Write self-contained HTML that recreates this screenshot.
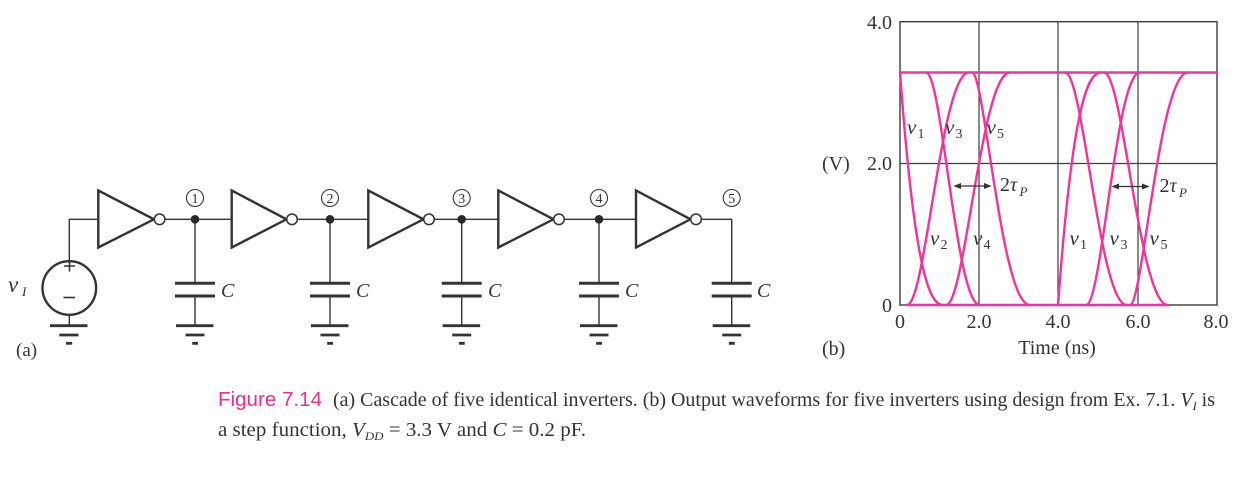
<!DOCTYPE html>
<html><head><meta charset="utf-8"><style>
html,body{margin:0;padding:0;background:#fff;}
svg{display:block;}
</style></head><body>
<svg width="1256" height="490" viewBox="0 0 1256 490" xmlns="http://www.w3.org/2000/svg" font-family="'Liberation Serif', serif">
<rect width="1256" height="490" fill="#fff"/>

<!-- ============ CIRCUIT (a) ============ -->
<g stroke="#333" fill="none">
  <!-- source -->
  <circle cx="69.3" cy="288" r="26.8" stroke-width="2.4"/>
  <path d="M64 266H75M69.5 260.5V271.5" stroke-width="1.6"/>
  <path d="M63.5 297.5H75" stroke-width="1.6"/>
  <path d="M69.3 261.2V219.3H98.3" stroke-width="1.4"/>
  <path d="M69.3 314.8V325.7" stroke-width="1.4"/>
  <path d="M50 325.7H87.5" stroke-width="2.8"/>
  <path d="M59.3 335H78.5" stroke-width="2.8"/>
  <path d="M66 343.3H72.2" stroke-width="2.8"/>

  <!-- inverters -->
  <path d="M98.3 190.5V247.5L154 219.3Z" stroke-width="2.4"/>
  <path d="M231.7 190.5V247.5L286.5 219.3Z" stroke-width="2.4"/>
  <path d="M368.3 190.5V247.5L423.5 219.3Z" stroke-width="2.4"/>
  <path d="M498.3 190.5V247.5L553.5 219.3Z" stroke-width="2.4"/>
  <path d="M636 190.5V247.5L690.5 219.3Z" stroke-width="2.4"/>
  <circle cx="159.6" cy="219.3" r="5.3" stroke-width="1.5" fill="#fff"/>
  <circle cx="292" cy="219.3" r="5.3" stroke-width="1.5" fill="#fff"/>
  <circle cx="429" cy="219.3" r="5.3" stroke-width="1.5" fill="#fff"/>
  <circle cx="559" cy="219.3" r="5.3" stroke-width="1.5" fill="#fff"/>
  <circle cx="696" cy="219.3" r="5.3" stroke-width="1.5" fill="#fff"/>

  <!-- wires between -->
  <path d="M164.9 219.3H231.7M297.3 219.3H368.3M434.3 219.3H498.3M564.3 219.3H636M701.3 219.3H731.7V283.3" stroke-width="1.4"/>

  <!-- capacitors + grounds -->
  <g stroke-width="1.4">
    <path d="M195 219.3V283.3M195 296V325.7"/>
    <path d="M175 283.3H215M175 296H215" stroke-width="3"/>
    <path d="M176 325.7H213.5M185.5 335H204.5M192.2 343.3H198" stroke-width="2.8"/>
  </g>
  <g stroke-width="1.4">
    <path d="M330 219.3V283.3M330 296V325.7"/>
    <path d="M310 283.3H350M310 296H350" stroke-width="3"/>
    <path d="M311 325.7H348.5M320.5 335H339.5M327.2 343.3H333" stroke-width="2.8"/>
  </g>
  <g stroke-width="1.4">
    <path d="M461.7 219.3V283.3M461.7 296V325.7"/>
    <path d="M441.7 283.3H481.7M441.7 296H481.7" stroke-width="3"/>
    <path d="M442.7 325.7H480.2M452.2 335H471.2M458.9 343.3H464.7" stroke-width="2.8"/>
  </g>
  <g stroke-width="1.4">
    <path d="M599 219.3V283.3M599 296V325.7"/>
    <path d="M579 283.3H619M579 296H619" stroke-width="3"/>
    <path d="M580 325.7H617.5M589.5 335H608.5M596.2 343.3H602" stroke-width="2.8"/>
  </g>
  <g stroke-width="1.4">
    <path d="M731.7 296V325.7"/>
    <path d="M711.7 283.3H751.7M711.7 296H751.7" stroke-width="3"/>
    <path d="M712.7 325.7H750.2M722.2 335H741.2M728.9 343.3H734.7" stroke-width="2.8"/>
  </g>

  <!-- node circles (labels) -->
  <g stroke-width="1.1">
    <circle cx="195" cy="198" r="8.5"/>
    <circle cx="330" cy="198" r="8.5"/>
    <circle cx="461.7" cy="198" r="8.5"/>
    <circle cx="599" cy="198" r="8.5"/>
    <circle cx="731.7" cy="198" r="8.5"/>
  </g>
</g>
<!-- node dots -->
<g fill="#2a2a2a">
  <circle cx="195" cy="219.3" r="4.3"/>
  <circle cx="330" cy="219.3" r="4.3"/>
  <circle cx="461.7" cy="219.3" r="4.3"/>
  <circle cx="599" cy="219.3" r="4.3"/>
</g>
<g fill="#333" font-size="14" text-anchor="middle">
  <text x="195" y="203">1</text>
  <text x="330" y="203">2</text>
  <text x="461.7" y="203">3</text>
  <text x="599" y="203">4</text>
  <text x="731.7" y="203">5</text>
</g>
<g fill="#333" font-size="20" font-style="italic">
  <text x="221" y="297">C</text>
  <text x="356" y="297">C</text>
  <text x="488" y="297">C</text>
  <text x="625" y="297">C</text>
  <text x="757" y="297">C</text>
</g>
<text x="8" y="292" fill="#333" font-size="23" font-style="italic">v</text>
<text x="22" y="296" fill="#333" font-size="13" font-style="italic">I</text>
<text x="16" y="356" fill="#333" font-size="19">(a)</text>

<!-- ============ PLOT (b) ============ -->
<g stroke="#3c3c3c" fill="none" stroke-width="1.2">
  <rect x="900" y="21.7" width="317" height="283.3" stroke-width="1.4"/>
  <path d="M979 21.7V305M1058 21.7V305M1138 21.7V305M900 163.5H1217"/>
</g>
<g fill="none" stroke="#F0349A" stroke-width="2.4" stroke-linecap="round">
  <path d="M900 72.5H1217"/>
  <path d="M907 305H1168"/>
  <path d="M900 72.5C914.3 266.2 928.7 305 943 305"/>
  <path d="M907 305C925.6 305 941.1 72.5 969 72.5"/>
  <path d="M926 72.5C942.2 72.5 955.7 305 980 305"/>
  <path d="M946 305C965.2 305 981.2 72.5 1010 72.5"/>
  <path d="M972 72.5C984.8 72.5 1001 305 1030 305"/>
  <path d="M1058 305C1072.3 111.3 1086.7 72.5 1101 72.5"/>
  <path d="M1065 72.5C1083.6 72.5 1099.1 305 1127 305"/>
  <path d="M1086 305C1102.2 305 1115.7 72.5 1140 72.5"/>
  <path d="M1104 72.5C1123.2 72.5 1139.2 305 1168 305"/>
  <path d="M1130 305C1142.8 305 1159 72.5 1188 72.5"/>
</g>
<!-- 2tau arrows -->
<g stroke="#333" stroke-width="1.3" fill="#333">
  <path d="M959 186H986" fill="none"/>
  <path d="M953.3 186L961 183V189Z" stroke="none"/>
  <path d="M991.7 186L984 183V189Z" stroke="none"/>
  <path d="M1117 186.5H1144" fill="none"/>
  <path d="M1111.3 186.5L1119 183.5V189.5Z" stroke="none"/>
  <path d="M1149.7 186.5L1142 183.5V189.5Z" stroke="none"/>
</g>
<!-- axis labels -->
<g fill="#333" font-size="20">
  <text x="892" y="29" text-anchor="end">4.0</text>
  <text x="892" y="170" text-anchor="end">2.0</text>
  <text x="892" y="312" text-anchor="end">0</text>
  <text x="822" y="170">(V)</text>
  <text x="900" y="328" text-anchor="middle">0</text>
  <text x="979" y="328" text-anchor="middle">2.0</text>
  <text x="1058" y="328" text-anchor="middle">4.0</text>
  <text x="1138" y="328" text-anchor="middle">6.0</text>
  <text x="1216" y="328" text-anchor="middle">8.0</text>
  <text x="1057" y="354" text-anchor="middle">Time (ns)</text>
  <text x="822" y="355">(b)</text>
</g>
<!-- curve labels -->
<g fill="#333">
  <g font-size="21" font-style="italic">
    <text x="907" y="134">v</text>
    <text x="945" y="134">v</text>
    <text x="986.5" y="134">v</text>
    <text x="930" y="245">v</text>
    <text x="973" y="245">v</text>
    <text x="1069.5" y="245">v</text>
    <text x="1109.5" y="245">v</text>
    <text x="1149.5" y="245">v</text>
  </g>
  <g font-size="14">
    <text x="917.5" y="138">1</text>
    <text x="955.5" y="138">3</text>
    <text x="997" y="138">5</text>
    <text x="940.5" y="249">2</text>
    <text x="983.5" y="249">4</text>
    <text x="1080" y="249">1</text>
    <text x="1120.5" y="249">3</text>
    <text x="1160.5" y="249">5</text>
  </g>
  <text x="1000" y="191" font-size="20">2</text>
  <text x="1010" y="191" font-size="20" font-style="italic">τ</text>
  <text x="1019.5" y="196" font-size="13" font-style="italic">P</text>
  <text x="1159.5" y="192" font-size="20">2</text>
  <text x="1169.5" y="192" font-size="20" font-style="italic">τ</text>
  <text x="1179" y="197" font-size="13" font-style="italic">P</text>
</g>

<!-- ============ CAPTION ============ -->
<text x="218" y="406" font-family="'Liberation Sans', sans-serif" font-size="20" fill="#E8308F" textLength="104" lengthAdjust="spacingAndGlyphs">Figure 7.14</text>
<text x="333" y="406" font-size="19.5" fill="#333" textLength="882" lengthAdjust="spacingAndGlyphs">(a) Cascade of five identical inverters. (b) Output waveforms for five inverters using design from Ex. 7.1. <tspan font-style="italic">V</tspan><tspan font-style="italic" font-size="12" dy="4">I</tspan><tspan dy="-4"> is</tspan></text>
<text x="218" y="436" font-size="19.5" fill="#333" textLength="368" lengthAdjust="spacingAndGlyphs">a step function, <tspan font-style="italic">V</tspan><tspan font-style="italic" font-size="12" dy="4">DD</tspan><tspan dy="-4"> = 3.3 V and </tspan><tspan font-style="italic">C</tspan><tspan> = 0.2 pF.</tspan></text>
</svg>
</body></html>
